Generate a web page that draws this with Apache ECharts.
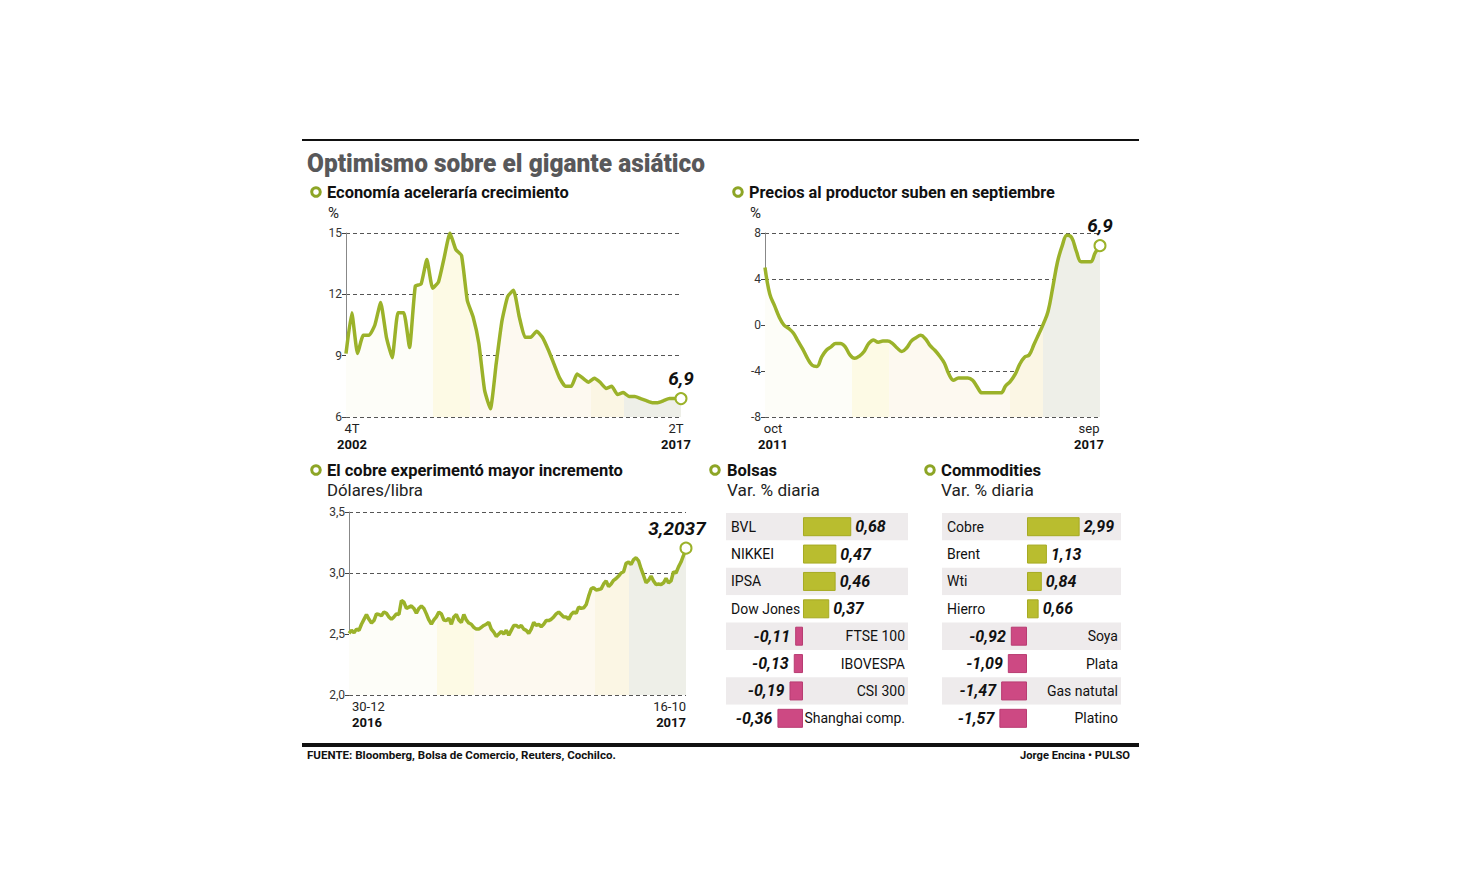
<!DOCTYPE html>
<html><head><meta charset="utf-8">
<script src="https://cdn.jsdelivr.net/npm/echarts@6/dist/echarts.min.js"></script>
<style>html,body{margin:0;padding:0;background:#fff}#c{width:1460px;height:884px}</style>
</head><body><div id="c"></div>
<script>
// ---------- DATA ----------
// China GDP, % y/y, quarterly 4T 2002 .. 2T 2017
const gdpValues = [9.1,11.1,9.1,10.0,10.0,10.5,11.6,9.9,8.9,11.1,11.1,9.4,12.4,12.5,13.7,12.3,12.6,13.8,15.0,14.2,13.9,11.7,10.9,9.6,7.3,6.4,8.6,10.7,11.9,12.2,10.9,9.9,9.9,10.2,9.9,9.3,8.6,7.9,7.5,7.5,8.1,7.9,7.7,7.9,7.7,7.4,7.5,7.1,7.2,7.0,7.0,6.9,6.8,6.7,6.7,6.8,6.9,6.9,6.9];
const gdpTickTop = ['4T', '2T'];
const gdpTickYear = ['2002', '2017'];
const gdpLastLabel = '6,9';

// China PPI, % y/y, monthly oct 2011 .. sep 2017
const ppiValues = [5.0,2.7,1.7,0.7,0.0,-0.3,-0.7,-1.4,-2.1,-2.9,-3.5,-3.6,-2.8,-2.2,-1.9,-1.6,-1.6,-1.9,-2.6,-2.9,-2.7,-2.3,-1.6,-1.3,-1.5,-1.4,-1.4,-1.6,-2.0,-2.3,-2.0,-1.4,-1.1,-0.9,-1.2,-1.8,-2.2,-2.7,-3.3,-4.3,-4.8,-4.6,-4.6,-4.6,-4.8,-5.4,-5.9,-5.9,-5.9,-5.9,-5.9,-5.3,-4.9,-4.3,-3.4,-2.8,-2.6,-1.7,-0.8,0.1,1.2,3.3,5.5,6.9,7.8,7.6,6.4,5.5,5.5,5.5,6.3,6.9];
const ppiTickTop = ['oct', 'sep'];
const ppiTickYear = ['2011', '2017'];
const ppiLastLabel = '6,9';

// Copper, US$/lb, daily 30-12-2016 .. 16-10-2017
const copperValues = [2.505,2.53,2.51,2.54,2.53,2.58,2.62,2.66,2.62,2.59,2.61,2.665,2.66,2.65,2.68,2.67,2.64,2.62,2.64,2.665,2.66,2.775,2.76,2.71,2.72,2.73,2.71,2.67,2.71,2.73,2.71,2.665,2.615,2.58,2.615,2.64,2.68,2.665,2.615,2.61,2.63,2.58,2.64,2.66,2.615,2.595,2.66,2.615,2.59,2.58,2.555,2.54,2.54,2.555,2.57,2.58,2.595,2.54,2.515,2.48,2.50,2.52,2.50,2.53,2.49,2.53,2.57,2.57,2.555,2.57,2.54,2.53,2.505,2.54,2.595,2.57,2.58,2.56,2.58,2.61,2.61,2.62,2.64,2.665,2.68,2.66,2.64,2.64,2.62,2.66,2.68,2.67,2.72,2.71,2.715,2.74,2.81,2.87,2.88,2.86,2.865,2.87,2.91,2.935,2.89,2.91,2.94,2.955,2.975,3.00,3.01,3.08,3.09,3.07,3.11,3.125,3.10,3.035,2.98,2.92,2.94,2.975,2.935,2.905,2.91,2.905,2.92,2.955,2.92,2.935,3.01,3.00,3.05,3.09,3.145,3.2037];
const copperTickTop = ['30-12', '16-10'];
const copperTickYear = ['2016', '2017'];
const copperLastLabel = '3,2037';

// Stock markets, daily % change
const bolsasNames = ['BVL','NIKKEI','IPSA','Dow Jones','FTSE 100','IBOVESPA','CSI 300','Shanghai comp.'];
const bolsasValues = [0.68,0.47,0.46,0.37,-0.11,-0.13,-0.19,-0.36];

// Commodities, daily % change
const commNames = ['Cobre','Brent','Wti','Hierro','Soya','Plata','Gas natutal','Platino'];
const commValues = [2.99,1.13,0.84,0.66,-0.92,-1.09,-1.47,-1.57];

// ---------- STYLE ----------
const FONT = 'Roboto, "Liberation Sans", Arial, sans-serif';
const LINE = '#9bb22a';
const MARK = '#8da526';
const POS = '#b9bd2f';
const NEG = '#cd4983';

const chart = echarts.init(document.getElementById('c'), null, {renderer: 'svg'});
const ctx = document.createElement('canvas').getContext('2d');
function fitText(text, font, x, y, target, fill, align) {
  ctx.font = font;
  const w = ctx.measureText(text).width;
  return {type: 'text', x: x, y: y, scaleX: target / w, silent: true,
    style: {text: text, font: font, fill: fill || '#111', align: align || 'left', verticalAlign: 'middle'}};
}
function plainText(text, font, x, y, fill, align) {
  return {type: 'text', x: x, y: y, silent: true,
    style: {text: text, font: font, fill: fill || '#222', align: align || 'left', verticalAlign: 'middle'}};
}
function ring(cx, cy) {
  return {type: 'circle', shape: {cx: cx, cy: cy, r: 4.3}, silent: true,
    style: {fill: '#fff', stroke: MARK, lineWidth: 3}};
}
function bands(stops) {
  const cs = [];
  stops.forEach(function (s) { cs.push({offset: s[0], color: s[2]}); cs.push({offset: s[1], color: s[2]}); });
  return new echarts.graphic.LinearGradient(0, 0, 1, 0, cs);
}
const bandStops = [
  [0, 0.26, '#fdfdf8'], [0.26, 0.37, '#fdfae5'], [0.37, 0.73, '#fdf9f0'], [0.73, 0.83, '#fbf6e4'], [0.83, 1, '#eeefe8']
];

// padL / padR shift the first / last tick label sideways (in px of padding)
function lineGridAxes(idx, n, tickTop, tickYear, ymin, ymax, yint, yfmt, alignEnds, padL, padR) {
  const cats = [];
  for (let i = 0; i < n; i++) cats.push(String(i));
  const x = {
    type: 'category', gridIndex: idx, data: cats, boundaryGap: false,
    axisLine: {show: false}, axisTick: {show: false}, splitLine: {show: false},
    axisLabel: {
      interval: function (i) { return i === 0 || i === n - 1; },
      margin: 3, color: '#222',
      formatter: function (v, i) {
        return i === 0 ? '{a0|' + tickTop[0] + '}\n{b0|' + tickYear[0] + '}'
                       : '{a1|' + tickTop[1] + '}\n{b1|' + tickYear[1] + '}';
      },
      rich: {
        a0: {fontFamily: FONT, fontSize: 13, lineHeight: 16, color: '#222', padding: [0, 0, 0, padL]},
        b0: {fontFamily: FONT, fontSize: 13, fontWeight: 'bold', lineHeight: 17, color: '#111', padding: [0, 0, 0, padL]},
        a1: {fontFamily: FONT, fontSize: 13, lineHeight: 16, color: '#222', padding: [0, padR, 0, 0]},
        b1: {fontFamily: FONT, fontSize: 13, fontWeight: 'bold', lineHeight: 17, color: '#111', padding: [0, padR, 0, 0]}
      }
    }
  };
  if (alignEnds) { x.axisLabel.alignMinLabel = 'left'; x.axisLabel.alignMaxLabel = 'right'; }
  const y = {
    type: 'value', gridIndex: idx, min: ymin, max: ymax, interval: yint,
    axisLine: {show: true, lineStyle: {color: '#888', width: 1}},
    axisTick: {show: true, length: 4, lineStyle: {color: '#444'}},
    splitLine: {show: true, lineStyle: {color: '#555', width: 1, type: [4, 3]}},
    axisLabel: {color: '#333', fontFamily: FONT, fontSize: 12, margin: 4, formatter: yfmt}
  };
  return [x, y];
}

function lineSeries(idx, values, lastLabel, labelOffset, smooth) {
  const n = values.length;
  return {
    type: 'line', xAxisIndex: idx, yAxisIndex: idx, data: values, smooth: smooth,
    showSymbol: true, showAllSymbol: true, symbol: 'circle',
    symbolSize: function (v, p) { return p.dataIndex === n - 1 ? 11 : 0; },
    itemStyle: {color: '#fff', borderColor: LINE, borderWidth: 2},
    lineStyle: {color: LINE, width: 3.5},
    areaStyle: {origin: 'start', color: bands(bandStops), opacity: 1},
    label: {
      show: true, position: 'top', distance: 4, offset: labelOffset,
      formatter: function (p) { return p.dataIndex === n - 1 ? lastLabel : ''; },
      fontFamily: FONT, fontSize: 19, fontWeight: 'bold', fontStyle: 'italic', color: '#111'
    },
    z: 3
  };
}

const a1 = lineGridAxes(0, gdpValues.length, gdpTickTop, gdpTickYear, 6, 15, 3, null, false, 12, 10);
const a2 = lineGridAxes(1, ppiValues.length, ppiTickTop, ppiTickYear, -8, 8, 4, null, false, 16, 22);
const a3 = lineGridAxes(2, copperValues.length, copperTickTop, copperTickYear, 2, 3.5, 0.5,
  function (v) { return v.toFixed(1).replace('.', ','); }, true, 3, 0);

function barAxes(idx, names, values, xmin, xmax) {
  const x = {type: 'value', gridIndex: idx, min: xmin, max: xmax, show: false};
  const yl = {
    type: 'category', gridIndex: idx, data: names, inverse: true, position: 'left',
    axisLine: {show: false}, axisTick: {show: false},
    splitArea: {show: true, interval: 0, areaStyle: {color: ['#eeebec', '#ffffff']}},
    axisLabel: {inside: true, interval: 0, margin: 5, color: '#111', fontFamily: FONT, fontSize: 14,
      formatter: function (v, i) { return values[i] >= 0 ? v : ''; }}
  };
  const yr = {
    type: 'category', gridIndex: idx, data: names, inverse: true, position: 'right',
    axisLine: {show: false}, axisTick: {show: false}, splitArea: {show: false},
    axisLabel: {inside: true, interval: 0, margin: 3, color: '#111', fontFamily: FONT, fontSize: 14,
      formatter: function (v, i) { return values[i] < 0 ? v : ''; }}
  };
  return [x, yl, yr];
}
function barSeries(idx, yIdx, values) {
  return {
    type: 'bar', xAxisIndex: idx, yAxisIndex: yIdx, barWidth: 19,
    data: values.map(function (v) {
      return {
        value: v,
        itemStyle: {color: v >= 0 ? POS : NEG, borderColor: v >= 0 ? '#a6aa22' : '#b83c72', borderWidth: 1},
        label: {position: v >= 0 ? 'right' : 'left', distance: v >= 0 ? 4 : 5}
      };
    }),
    label: {show: true, fontFamily: FONT, fontSize: 16, fontWeight: 'bold', fontStyle: 'italic', color: '#111',
      formatter: function (p) { return String(p.value).replace('.', ','); }}
  };
}
const b1 = barAxes(3, bolsasNames, bolsasValues, -1.085, 1.48);
const b2 = barAxes(4, commNames, commValues, -4.83, 5.34);

const graphics = [
  {type: 'rect', shape: {x: 302, y: 139, width: 837, height: 2}, style: {fill: '#111'}, silent: true},
  {type: 'rect', shape: {x: 302, y: 743, width: 837, height: 4}, style: {fill: '#111'}, silent: true},
  fitText('Optimismo sobre el gigante asiático', '900 26px ' + FONT, 307, 163, 398, '#58585a'),
  ring(316, 192), fitText('Economía aceleraría crecimiento', 'bold 16px ' + FONT, 327, 193, 242, '#111'),
  plainText('%', '15px ' + FONT, 328, 213, '#222'),
  ring(738, 192), fitText('Precios al productor suben en septiembre', 'bold 16px ' + FONT, 749, 193, 306, '#111'),
  plainText('%', '15px ' + FONT, 750, 213, '#222'),
  ring(316, 470), fitText('El cobre experimentó mayor incremento', 'bold 16px ' + FONT, 327, 471, 296, '#111'),
  fitText('Dólares/libra', '16px ' + FONT, 327, 491, 96, '#222'),
  ring(715, 470), fitText('Bolsas', 'bold 16px ' + FONT, 727, 471, 50, '#111'),
  fitText('Var. % diaria', '16px ' + FONT, 727, 491, 93, '#222'),
  ring(930, 470), fitText('Commodities', 'bold 16px ' + FONT, 941, 471, 100, '#111'),
  fitText('Var. % diaria', '16px ' + FONT, 941, 491, 93, '#222'),
  fitText('FUENTE: Bloomberg, Bolsa de Comercio, Reuters, Cochilco.', 'bold 10px ' + FONT, 307, 756, 309, '#111'),
  fitText('Jorge Encina • PULSO', 'bold 10px ' + FONT, 1130, 756, 110, '#111', 'right')
];

chart.setOption({
  backgroundColor: '#ffffff',
  animation: false,
  grid: [
    {left: 346, top: 233, width: 335, height: 184},
    {left: 765, top: 233, width: 335, height: 184},
    {left: 349, top: 512, width: 337, height: 183},
    {left: 726, top: 513, width: 182, height: 219},
    {left: 942, top: 513, width: 179, height: 219}
  ],
  xAxis: [a1[0], a2[0], a3[0], b1[0], b2[0]],
  yAxis: [a1[1], a2[1], a3[1], b1[1], b1[2], b2[1], b2[2]],
  series: [
    lineSeries(0, gdpValues, gdpLastLabel, [0, 0], 0.15),
    lineSeries(1, ppiValues, ppiLastLabel, [0, 0], 0.4),
    lineSeries(2, copperValues, copperLastLabel, [-9, 0], false),
    barSeries(3, 3, bolsasValues),
    barSeries(4, 5, commValues)
  ],
  graphic: graphics
});
</script>
</body></html>
